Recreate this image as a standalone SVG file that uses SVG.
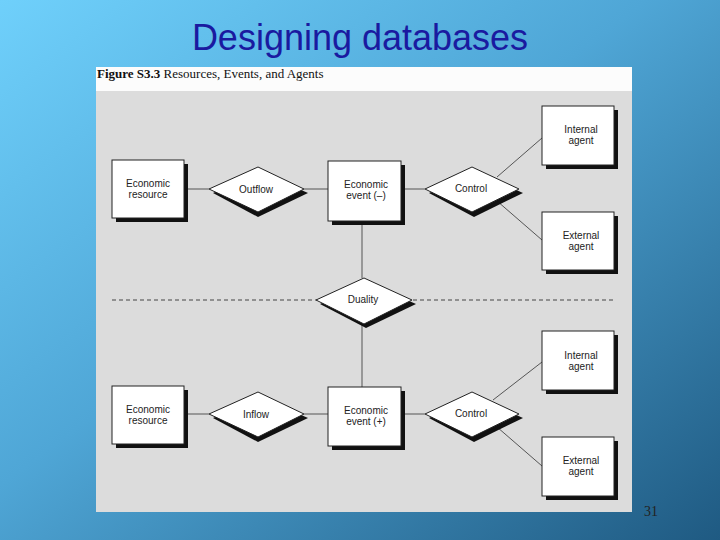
<svg xmlns="http://www.w3.org/2000/svg" width="720" height="540" viewBox="0 0 720 540">
<defs>
<linearGradient id="bg" x1="0" y1="0" x2="1" y2="1">
<stop offset="0" stop-color="#6fd0fb"/><stop offset="0.45" stop-color="#4fa6d6"/><stop offset="1" stop-color="#1f5a82"/>
</linearGradient>
<style>
.b{fill:#fff;stroke:#222;stroke-width:1}
.s{fill:#111}
.t{font-family:"Liberation Sans",Arial,sans-serif;font-size:10px;fill:#222;text-anchor:middle}
.l{stroke:#555;stroke-width:1;fill:none}
</style>
</defs>
<rect width="720" height="540" fill="url(#bg)"/>
<text x="360" y="50" font-family="Liberation Sans,Arial,sans-serif" font-size="36" fill="#1a1aa0" text-anchor="middle">Designing databases</text>
<rect x="96" y="67" width="536" height="445" fill="#dcdcdc"/>
<rect x="96" y="67" width="536" height="24" fill="#fcfcfc"/>
<text x="97" y="78" font-family="Liberation Serif,serif" font-size="13" fill="#111"><tspan font-weight="bold">Figure S3.3</tspan>  Resources, Events, and Agents</text>
<text x="651" y="516" font-family="Liberation Serif,serif" font-size="14" fill="#222" text-anchor="middle">31</text>
<g id="connectors">
<line class="l" x1="184" y1="189" x2="209" y2="189"/>
<line class="l" x1="304" y1="189" x2="328" y2="189"/>
<line class="l" x1="401" y1="189" x2="425" y2="189"/>
<line class="l" x1="497" y1="177" x2="542" y2="138"/>
<line class="l" x1="497" y1="201" x2="542" y2="240"/>
<line class="l" x1="362" y1="221" x2="362" y2="278"/>
<line class="l" x1="362" y1="324" x2="362" y2="387"/>
<line x1="112" y1="300" x2="616" y2="300" stroke="#444" stroke-dasharray="4,3"/>
<line class="l" x1="184" y1="414" x2="209" y2="414"/>
<line class="l" x1="304" y1="414" x2="328" y2="414"/>
<line class="l" x1="401" y1="414" x2="425" y2="414"/>
<line class="l" x1="493" y1="400" x2="542" y2="362"/>
<line class="l" x1="497" y1="427" x2="542" y2="466"/>
</g>
<g id="res1"><rect class="s" x="116" y="164" width="72" height="58"/><rect class="b" x="112" y="160" width="72" height="58"/><text class="t" x="148" y="187">Economic</text><text class="t" x="148" y="198">resource</text></g>
<g id="outflow"><polygon class="s" points="213,193 258,171 308,193 258,217"/><polygon class="b" points="209,189 258,167 304,189 258,212"/><text class="t" x="256" y="193">Outflow</text></g>
<g id="event1"><rect class="s" x="332" y="165" width="73" height="60"/><rect class="b" x="328" y="161" width="73" height="60"/><text class="t" x="366" y="188">Economic</text><text class="t" x="366" y="199">event (–)</text></g>
<g id="control1"><polygon class="s" points="429,193 474,171 523,193 474,217"/><polygon class="b" points="425,189 472,167 519,189 472,212"/><text class="t" x="471" y="192">Control</text></g>
<g id="int1"><rect class="s" x="546" y="110" width="72" height="59"/><rect class="b" x="542" y="106" width="72" height="59"/><text class="t" x="581" y="133">Internal</text><text class="t" x="581" y="144">agent</text></g>
<g id="ext1"><rect class="s" x="546" y="216" width="72" height="58"/><rect class="b" x="542" y="212" width="72" height="58"/><text class="t" x="581" y="239">External</text><text class="t" x="581" y="250">agent</text></g>
<g id="duality"><polygon class="s" points="320,304 366,282 416,304 366,328"/><polygon class="b" points="316,300 364,278 412,300 364,324"/><text class="t" x="363" y="303">Duality</text></g>
<g id="res2"><rect class="s" x="116" y="390" width="72" height="58"/><rect class="b" x="112" y="386" width="72" height="58"/><text class="t" x="148" y="413">Economic</text><text class="t" x="148" y="424">resource</text></g>
<g id="inflow"><polygon class="s" points="213,418 258,396 308,418 258,442"/><polygon class="b" points="209,414 258,392 304,414 258,437"/><text class="t" x="256" y="418">Inflow</text></g>
<g id="event2"><rect class="s" x="332" y="391" width="73" height="59"/><rect class="b" x="328" y="387" width="73" height="59"/><text class="t" x="366" y="414">Economic</text><text class="t" x="366" y="425">event (+)</text></g>
<g id="control2"><polygon class="s" points="429,418 474,396 523,418 474,442"/><polygon class="b" points="425,414 472,392 519,414 472,437"/><text class="t" x="471" y="417">Control</text></g>
<g id="int2"><rect class="s" x="546" y="335" width="72" height="59"/><rect class="b" x="542" y="331" width="72" height="59"/><text class="t" x="581" y="359">Internal</text><text class="t" x="581" y="370">agent</text></g>
<g id="ext2"><rect class="s" x="546" y="441" width="72" height="59"/><rect class="b" x="542" y="437" width="72" height="59"/><text class="t" x="581" y="464">External</text><text class="t" x="581" y="475">agent</text></g>
</svg>
